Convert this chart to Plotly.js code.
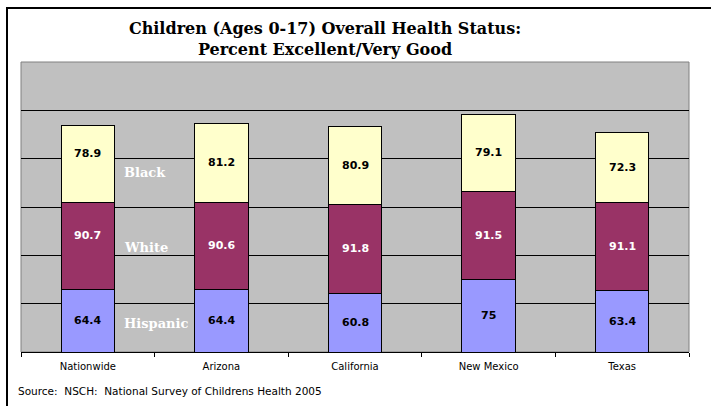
<!DOCTYPE html>
<html>
<head>
<meta charset="utf-8">
<script src="https://cdn.plot.ly/plotly-3.0.1.min.js"></script>
<style>
  html, body { margin: 0; padding: 0; background: #ffffff; overflow: hidden; }
  #wrap { position: relative; width: 711px; height: 406px; }
  #frame { position: absolute; left: 6px; top: 7px; width: 720px; height: 420px; border: 2px solid #000; box-sizing: border-box; pointer-events: none; z-index: 5; }
  #chart { position: absolute; left: 0; top: 0; width: 711px; height: 406px; }
</style>
</head>
<body>
<div id="wrap">
  <div id="chart"></div>
  <div id="frame"></div>
</div>
<script>
// ---- data ----
const categories = ["Nationwide", "Arizona", "California", "New Mexico", "Texas"];
const hispanic = [64.4, 64.4, 60.8, 75, 63.4];
const white = [90.7, 90.6, 91.8, 91.5, 91.1];
const black = [78.9, 81.2, 80.9, 79.1, 72.3];
const seriesNames = ["Hispanic", "White", "Black"];
const titleLines = ["Children (Ages 0-17) Overall Health Status:", "Percent Excellent/Very Good"];
const sourceText = "Source:  NSCH:  National Survey of Childrens Health 2005";

// ---- styles ----
const SANS = "DejaVu Sans, Arial, sans-serif";
const SERIF = "DejaVu Serif, Times New Roman, serif";
const colors = { Hispanic: "#9999FF", White: "#993366", Black: "#FFFFCC" };
const labelColors = { Hispanic: "#000000", White: "#FFFFFF", Black: "#000000" };
const seriesValues = { Hispanic: hispanic, White: white, Black: black };

const traces = seriesNames.map(name => ({
  type: "bar",
  name: name,
  x: categories,
  y: seriesValues[name],
  marker: { color: colors[name], line: { color: "#000000", width: 1 } },
  hoverinfo: "x+y+name"
}));

// value labels, centered within each segment
const annotations = [];
categories.forEach((cat, i) => {
  let base = 0;
  seriesNames.forEach(name => {
    const v = seriesValues[name][i];
    annotations.push({
      x: cat, y: base + v / 2, xref: "x", yref: "y",
      text: "<b>" + v + "</b>", showarrow: false,
      yshift: (i === 0 && name !== "Hispanic") ? 10 : 0,
      font: { family: SANS, size: 11, color: labelColors[name] }
    });
    base += v;
  });
});

// series name labels placed between first two bars
const seriesLabelY = { Black: 186, White: 108, Hispanic: 30 };
seriesNames.forEach(name => {
  annotations.push({
    x: 0.256, y: seriesLabelY[name], xref: "x", yref: "y",
    xanchor: "left",
    text: "<b>" + name + "</b>", showarrow: false,
    font: { family: SERIF, size: 13, color: "#FFFFFF" }
  });
});

// source note (paper coords relative to plot area: l=21, width=668, bottom=352, height=290)
annotations.push({
  x: (16 - 21) / 668, y: (352 - 391) / 290, xref: "paper", yref: "paper",
  text: sourceText, showarrow: false, xanchor: "left", yanchor: "middle",
  font: { family: SANS, size: 10.5, color: "#000000" }
});

const layout = {
  width: 711, height: 406,
  margin: { l: 21, r: 22, t: 62, b: 54, pad: 0 },
  paper_bgcolor: "#FFFFFF",
  plot_bgcolor: "#C0C0C0",
  barmode: "stack",
  bargap: 0.6,
  showlegend: false,
  title: {
    text: titleLines.map(s => "<b>" + s + "</b>").join("<br>"),
    x: 325 / 711, xanchor: "center", xref: "container",
    y: 1 - 34 / 406, yanchor: "top", yref: "container",
    font: { family: SERIF, size: 16, color: "#000000" }
  },
  xaxis: {
    type: "category",
    showline: true, linecolor: "#000000", linewidth: 1,
    ticks: "outside", ticklen: 4, tickcolor: "#000000", tickson: "boundaries",
    ticklabelstandoff: 5,
    showgrid: false, mirror: false,
    tickfont: { family: SANS, size: 10, color: "#000000" },
    fixedrange: true
  },
  yaxis: {
    range: [0, 300], dtick: 50,
    showticklabels: false, ticks: "",
    showgrid: true, gridcolor: "#000000", gridwidth: 1,
    zeroline: false, showline: false,
    fixedrange: true
  },
  shapes: [
    { type: "rect", xref: "paper", yref: "paper", x0: 0, x1: 1, y0: 0, y1: 1,
      line: { color: "#808080", width: 1 }, fillcolor: "rgba(0,0,0,0)", layer: "below" }
  ],
  annotations: annotations,
  font: { family: SANS }
};

Plotly.newPlot("chart", traces, layout, { displayModeBar: false, staticPlot: true });
</script>
</body>
</html>
